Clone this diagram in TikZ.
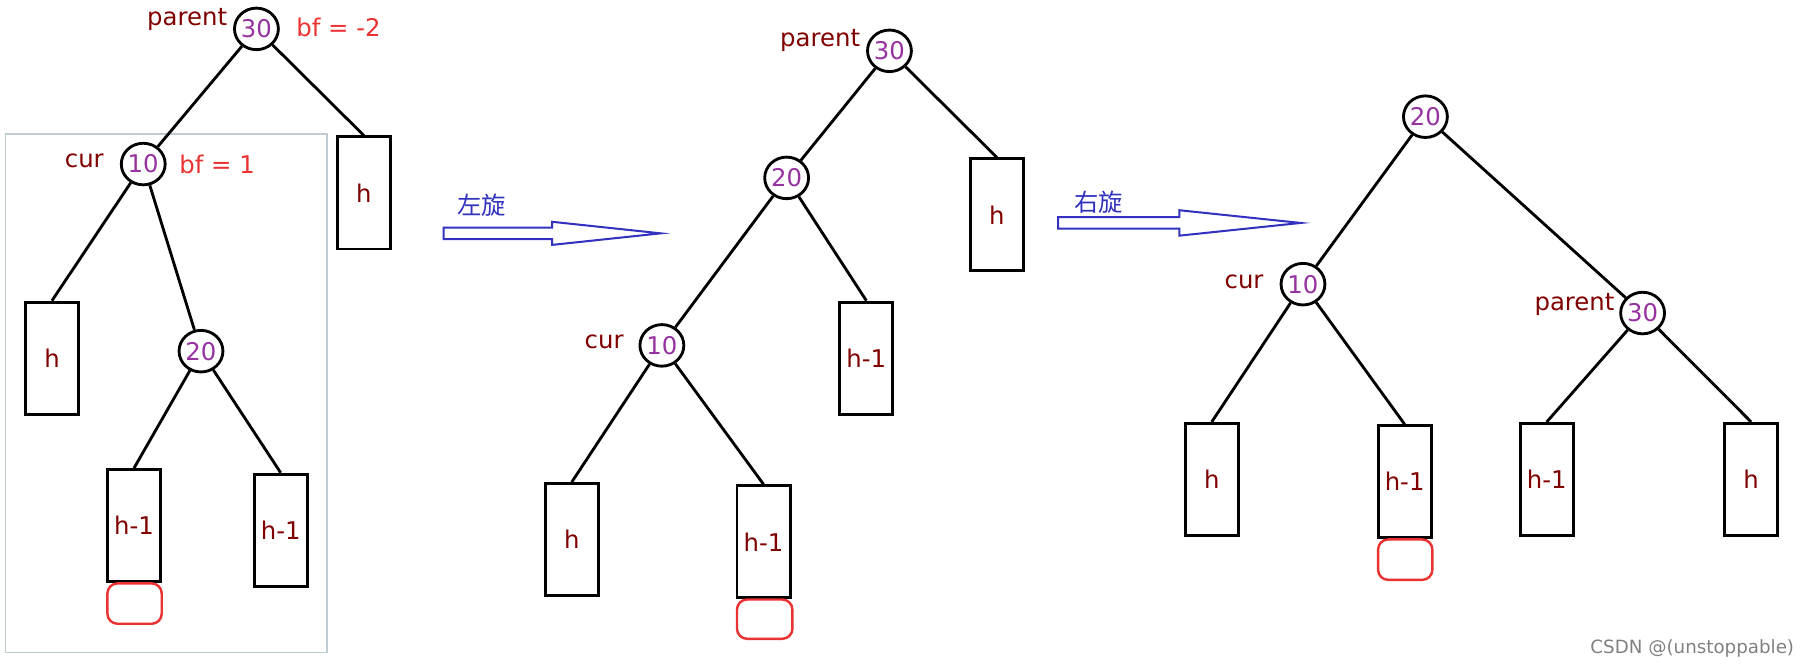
\documentclass[tikz,border=0pt]{standalone}
\usepackage{fontspec}
\setmainfont{DejaVu Sans}
\newfontfamily\cjk{Noto Sans CJK SC}
\usetikzlibrary{positioning,shapes.geometric}
\definecolor{lbl}{RGB}{128,0,0}
\definecolor{num}{RGB}{150,50,160}
\definecolor{bfc}{RGB}{235,50,50}
\definecolor{arr}{RGB}{50,50,190}
\begin{document}
\begin{tikzpicture}[x=0.02cm,y=-0.02cm,line width=1.4pt,font=\large,
	key/.style={ellipse,draw,minimum width=0.76cm,minimum height=0.72cm,inner sep=0,text=num},
	sub/.style={rectangle,draw,minimum width=0.92cm,minimum height=1.94cm,inner sep=0,text=lbl},
	txt/.style={text=lbl},
	bfl/.style={text=bfc},
	gap/.style={draw=bfc,rounded corners=5pt,line width=1.2pt}]
	\useasboundingbox (0,0) rectangle (1560,576);
	% first tree
	\draw[line width=0.6pt,draw=cyan!20!gray!50] (5,116) rectangle (283,565);
	\node[key] (p1) at (222,25) {30};
	\node[txt] at (162,17) {parent};
	\node[bfl] at (293,24) {bf = -2};
	\node[key] (c1) at (124,142) {10};
	\node[txt] at (73,139) {cur};
	\node[bfl] at (188,142) {bf = 1};
	\node[key] (m1) at (174,304) {20};
	\node[sub] (a1) at (315,167) {h};
	\node[sub] (b1) at (45,310) {h};
	\node[sub] (d1) at (116,455) {h-1};
	\node[sub] (e1) at (243,459) {h-1};
	\draw[gap] (93,505) rectangle (140,540);
	\draw (p1)--(c1) (p1)--(a1.north) (c1)--(b1.north) (c1)--(m1) (m1)--(d1.north) (m1)--(e1.north);
	% left rotation
	\draw[arr,line width=1pt] (384,197)--(478,197)--(478,192)--(572,202)--(478,212)--(478,207)--(384,207)--cycle;
	\node[arr] at (417,178) {\cjk 左旋};
	% second tree
	\node[key] (p2) at (770,44) {30};
	\node[txt] at (710,35) {parent};
	\node[key] (m2) at (681,154) {20};
	\node[key] (c2) at (573,299) {10};
	\node[txt] at (523,296) {cur};
	\node[sub] (a2) at (863,186) {h};
	\node[sub] (e2) at (750,310) {h-1};
	\node[sub] (b2) at (495,467) {h};
	\node[sub] (d2) at (661,469) {h-1};
	\draw[gap] (638,519) rectangle (686,553);
	\draw (p2)--(m2) (p2)--(a2.north) (m2)--(c2) (m2)--(e2.north) (c2)--(b2.north) (c2)--(d2.north);
	% right rotation
	\draw[arr,line width=1pt] (916,188)--(1021,188)--(1021,182)--(1126,193)--(1021,204)--(1021,198)--(916,198)--cycle;
	\node[arr] at (951,175) {\cjk 右旋};
	% third tree
	\node[key] (m3) at (1234,101) {20};
	\node[key] (c3) at (1128,246) {10};
	\node[txt] at (1077,244) {cur};
	\node[key] (p3) at (1422,271) {30};
	\node[txt] at (1363,264) {parent};
	\node[sub] (b3) at (1049,415) {h};
	\node[sub] (d3) at (1216,417) {h-1};
	\node[sub] (e3) at (1339,415) {h-1};
	\node[sub] (a3) at (1516,415) {h};
	\draw[gap] (1193,467) rectangle (1240,502);
	\draw (m3)--(c3) (m3)--(p3) (c3)--(b3.north) (c3)--(d3.north) (p3)--(e3.north) (p3)--(a3.north);
	\node[text=gray,font=\small] at (1465,561) {CSDN @(unstoppable)};
\end{tikzpicture}
\end{document}
